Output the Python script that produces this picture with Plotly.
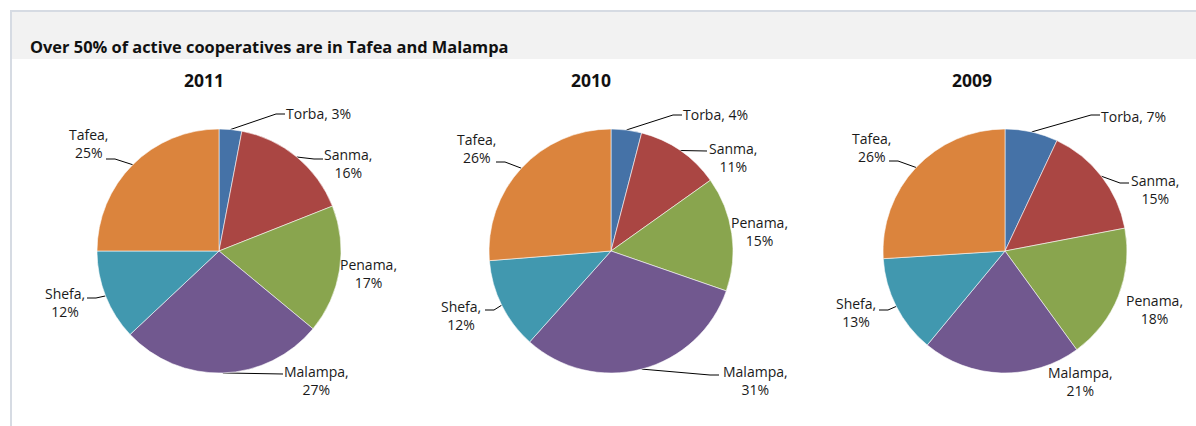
import math
import plotly.graph_objects as go

# ---------------- data ----------------
provinces = ["Torba", "Sanma", "Penama", "Malampa", "Shefa", "Tafea"]
years = ["2011", "2010", "2009"]
share_2011 = [3, 16, 17, 27, 12, 25]
share_2010 = [4, 11, 15, 31, 12, 26]
share_2009 = [7, 15, 18, 21, 13, 26]
title_text = "Over 50% of active cooperatives are in Tafea and Malampa"

# ---------------- style / layout ----------------
colors = ["#4572A7", "#AA4643", "#89A54E", "#71588F", "#4198AF", "#DB843D"]
W, H = 1196, 426
R = 122
centers = [(219, 251), (611, 251), (1005, 251)]
year_title_x = [204, 591, 972]
year_title_y = 80
# label placement relative to pie centre: text centre (dx, dy), leader end (cdx, cdy) or None
label_layout = [
    [((99, -138), (66, -137)), ((129, -88), (104, -92)), ((149, 22), None),
     ((97, 129), (64, 123)), ((-154, 51), (-132, 47)), ((-131, -108), (-113, -92))],
    [((104, -137), (71, -136)), ((122, -94), (96, -100)), ((148, -20), None),
     ((144, 129), (108, 124)), ((-150, 64), (-126, 59)), ((-135, -103), (-115, -89))],
    [((128, -135), (95, -136)), ((150, -62), (124, -68)), ((149, 58), None),
     ((75, 130), None), ((-149, 61), (-126, 59)), ((-134, -104), (-116, -90))],
]
label_font = dict(family="Open Sans", size=14, color="#1a1a1a")

series = [share_2011, share_2010, share_2009]

fig = go.Figure()
annotations = []

for i, (vals, (cx, cy)) in enumerate(zip(series, centers)):
    fig.add_trace(go.Pie(
        labels=provinces, values=vals, sort=False, direction="clockwise",
        rotation=0, textinfo="none", hoverinfo="label+percent",
        marker=dict(colors=colors, line=dict(color="rgba(255,255,255,0.7)", width=0.8)),
        domain=dict(x=[(cx - R) / W, (cx + R) / W],
                    y=[(H - (cy + R)) / H, (H - (cy - R)) / H]),
        showlegend=False,
    ))
    annotations.append(dict(
        x=year_title_x[i], y=year_title_y, xref="x", yref="y", text="<b>%s</b>" % years[i],
        showarrow=False, font=dict(family="Open Sans", size=17.5, color="#111111"),
        xanchor="center", yanchor="middle"))

    total = sum(vals)
    cum = 0
    for j, (name, v) in enumerate(zip(provinces, vals)):
        mid = (cum + v / 2) / total * 2 * math.pi
        cum += v
        ax_ = cx + R * math.sin(mid)
        ay_ = cy - R * math.cos(mid)
        (tdx, tdy), conn = label_layout[i][j]
        if name == "Torba":
            txt = "%s, %d%%" % (name, v)
        else:
            txt = "%s,<br>%d%%" % (name, v)
        annotations.append(dict(
            x=cx + tdx, y=cy + tdy, xref="x", yref="y", text=txt, showarrow=False,
            font=label_font, align="center", xanchor="center", yanchor="middle"))
        if conn is not None:
            ex, ey = cx + conn[0], cy + conn[1]
            s = 1 if ex > ax_ else -1
            elbow_x = ex - s * 9
            fig.add_trace(go.Scatter(
                x=[ax_, elbow_x, ex], y=[ay_, ey, ey], mode="lines",
                line=dict(color="#000000", width=1), hoverinfo="skip",
                showlegend=False, xaxis="x", yaxis="y"))

annotations.append(dict(
    x=28, y=46, xref="x", yref="y", text="<b>%s</b>" % title_text, showarrow=False,
    font=dict(family="Open Sans", size=16.4, color="#111111"),
    xanchor="left", yanchor="middle"))

shapes = [
    dict(type="rect", xref="x", yref="y", x0=11, x1=W + 5, y0=12, y1=59,
         fillcolor="#f2f2f2", line=dict(width=0), layer="below"),
    dict(type="line", xref="x", yref="y", x0=10, x1=W + 5, y0=11, y1=11,
         line=dict(color="#d6dbe3", width=2), layer="below"),
    dict(type="line", xref="x", yref="y", x0=11, x1=11, y0=11, y1=H + 5,
         line=dict(color="#d6dbe3", width=2), layer="below"),
]

fig.update_layout(
    width=W, height=H, margin=dict(l=0, r=0, t=0, b=0),
    paper_bgcolor="white", plot_bgcolor="rgba(0,0,0,0)",
    xaxis=dict(range=[0, W], visible=False, fixedrange=True, domain=[0, 1]),
    yaxis=dict(range=[H, 0], visible=False, fixedrange=True, domain=[0, 1]),
    annotations=annotations, shapes=shapes,
)

fig.write_html(
    "out.html",
    config={"displayModeBar": False},
    post_script="document.body.style.margin='0';document.body.style.overflow='hidden';",
)
